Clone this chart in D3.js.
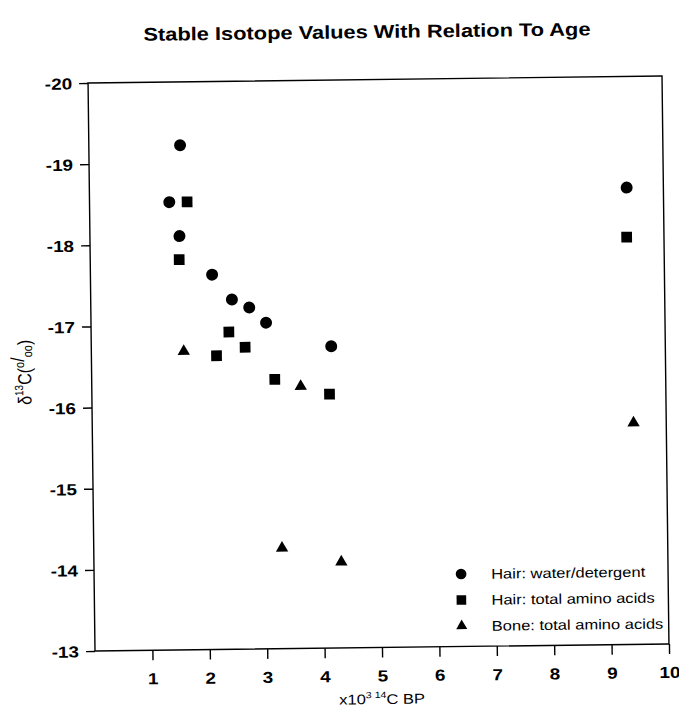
<!DOCTYPE html>
<html>
<head>
<meta charset="utf-8">
<script src="https://cdn.jsdelivr.net/npm/d3@7"></script>
<style>
  body { margin: 0; background: #fff; }
  svg { display: block; }
  text { font-family: 'Liberation Sans', Arial, sans-serif; fill: #000; }
</style>
</head>
<body>
<div id="chart"></div>
<script>
// values (age in 10^3 14C yr BP, d13C in per mil)
const ageHairWater = [1.59, 1.39, 1.56, 2.12, 2.46, 2.76, 3.05, 4.18, 9.36]
const d13cHairWater = [-19.22, -18.52, -18.10, -17.62, -17.31, -17.21, -17.02, -16.72, -18.63]

const ageHairAmino = [1.70, 1.55, 2.40, 2.68, 2.18, 3.19, 4.14, 9.35]
const d13cHairAmino = [-18.52, -17.81, -16.91, -16.72, -16.62, -16.32, -16.13, -18.02]

const ageBoneAmino = [1.61, 3.64, 9.43, 3.28, 4.31]
const d13cBoneAmino = [-16.68, -16.23, -15.73, -14.24, -14.06]

const seriesNames = ['Hair: water/detergent', 'Hair: total amino acids', 'Bone: total amino acids']
const xTicks = [1, 2, 3, 4, 5, 6, 7, 8, 9, 10]
const yTicks = [-20, -19, -18, -17, -16, -15, -14, -13]

const W = 679
const H = 714
const stretch = 1.18 // the scan is a bit wider than tall
const plot = { left: 91.5, right: 665.5, top: 79.5, bottom: 647.5 }

const series = [
  { name: seriesNames[0], symbol: d3.symbolCircle, size: 113, age: ageHairWater, val: d13cHairWater },
  { name: seriesNames[1], symbol: d3.symbolSquare, size: 115, age: ageHairAmino, val: d13cHairAmino },
  { name: seriesNames[2], symbol: d3.symbolTriangle, size: 66, age: ageBoneAmino, val: d13cBoneAmino }
]

const svg = d3.select('#chart').append('svg')
  .attr('width', W)
  .attr('height', H)

svg.append('rect').attr('width', W).attr('height', H).attr('fill', '#fff')

// whole page sits slightly tilted like the scan
const g = svg.append('g')
  .attr('transform', 'rotate(-0.7,378,363)')

const x = d3.scaleLinear().domain([0, 10]).range([plot.left, plot.right])
const y = d3.scaleLinear().domain([-20, -13]).range([plot.top, plot.bottom])

// frame
g.append('rect')
  .attr('x', plot.left)
  .attr('y', plot.top)
  .attr('width', plot.right - plot.left)
  .attr('height', plot.bottom - plot.top)
  .attr('fill', 'none')
  .attr('stroke', '#000')
  .attr('stroke-width', 1.4)

const xAxis = g.append('g')
  .attr('transform', `translate(0,${plot.bottom})`)
  .call(d3.axisBottom(x).tickValues(xTicks).tickSize(10).tickFormat(d => String(d)))
xAxis.select('.domain').remove()
xAxis.selectAll('.tick line').attr('stroke-width', 1.4)
xAxis.selectAll('.tick text')
  .attr('y', 0)
  .attr('dy', 0)
  .attr('transform', `translate(0,34) scale(${stretch},1)`)
  .style('font-size', '16px')
  .style('font-weight', 'bold')
  .style('font-family', "'Liberation Sans', Arial, sans-serif")

const yAxis = g.append('g')
  .attr('transform', `translate(${plot.left},0)`)
  .call(d3.axisLeft(y).tickValues(yTicks).tickSize(9).tickFormat(d => String(d)))
yAxis.select('.domain').remove()
yAxis.selectAll('.tick line').attr('stroke-width', 1.4)
yAxis.selectAll('.tick text')
  .attr('x', 0)
  .attr('dy', '0.36em')
  .attr('transform', `translate(-16,0) scale(${stretch},1)`)
  .style('font-size', '16px')
  .style('font-weight', 'bold')
  .style('font-family', "'Liberation Sans', Arial, sans-serif")

// points
series.forEach(s => {
  const pts = s.age.map((a, i) => ({ a, v: s.val[i] }))
  g.selectAll(null)
    .data(pts)
    .enter()
    .append('path')
    .attr('d', d3.symbol().type(s.symbol).size(s.size))
    .attr('transform', d => `translate(${x(d.a)},${y(d.v)})`)
    .attr('fill', '#000')
})

// legend
const legend = g.selectAll('.legend')
  .data(series)
  .enter().append('g')
  .attr('class', 'legend')
  .attr('transform', (_, i) => `translate(458.5,${575 + i * 26})`)

legend.append('path')
  .attr('d', d => d3.symbol().type(d.symbol).size(d.size * 0.8)())
  .attr('fill', '#000')

legend.append('text')
  .text(d => d.name)
  .attr('transform', `translate(30,5) scale(${stretch},1)`)
  .style('font-size', '14px')

// title
g.append('text')
  .attr('transform', `translate(371,38) scale(${stretch},1)`)
  .attr('text-anchor', 'middle')
  .style('font-size', '18.5px')
  .style('font-weight', 'bold')
  .text('Stable Isotope Values With Relation To Age')

// x axis title
const xt = g.append('text')
  .attr('transform', `translate(378,704) scale(${stretch},1)`)
  .attr('text-anchor', 'middle')
  .style('font-size', '14px')
xt.append('tspan').text('x10')
xt.append('tspan').attr('dy', -6).style('font-size', '9px').text('3')
xt.append('tspan').attr('dy', 0).style('font-size', '9px').text(' 14')
xt.append('tspan').attr('dy', 6).text('C BP')

// y axis title
const yt = g.append('text')
  .attr('transform', `translate(31,368) rotate(-90) scale(1,${stretch})`)
  .attr('text-anchor', 'middle')
  .style('font-size', '16px')
yt.append('tspan').text('\u03b4')
yt.append('tspan').attr('dy', -7).style('font-size', '10px').text('13')
yt.append('tspan').attr('dy', 7).text('C(')
yt.append('tspan').attr('dy', -6).style('font-size', '11px').text('o')
yt.append('tspan').attr('dy', 0).text('/')
yt.append('tspan').attr('dy', 7).style('font-size', '11px').text('oo')
yt.append('tspan').attr('dy', -1).text(')')
</script>
</body>
</html>
